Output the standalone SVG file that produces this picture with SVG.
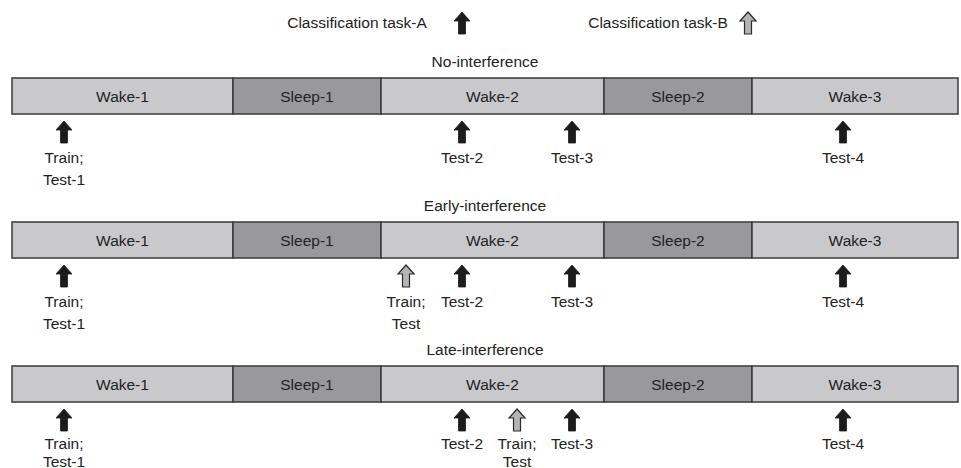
<svg xmlns="http://www.w3.org/2000/svg" xmlns:xlink="http://www.w3.org/1999/xlink" width="961" height="468" viewBox="0 0 961 468">
<style>
text{font-family:"Liberation Sans",Arial,sans-serif;font-size:15.5px;fill:#222;text-anchor:middle}
.wake{fill:#c9c9cb;stroke:#3a3a3a;stroke-width:1.5}
.sleep{fill:#99999c;stroke:#3a3a3a;stroke-width:1.5}
.a{fill:#1c1c1c;stroke:#1c1c1c;stroke-width:0.8}
.b{fill:#b4b4b6;stroke:#2a2a2a;stroke-width:1.2}
</style>
<defs>
<path id="arr" d="M0,0 L8,9 L3.5,9 L3.5,22 L-3.5,22 L-3.5,9 L-8,9 Z"/>
</defs>
<rect width="961" height="468" fill="#fff"/>
<g id="legend">
<text x="357" y="28">Classification task-A</text>
<use href="#arr" class="a" x="462" y="12"/>
<text x="658" y="28">Classification task-B</text>
<use href="#arr" class="b" x="748" y="12"/>
</g>
<g id="no-interference">
<text x="485" y="67">No-interference</text>
<g id="r1-wake1"><rect class="wake" x="12" y="78" width="221" height="36"/><text x="122.5" y="101.5">Wake-1</text></g>
<g id="r1-sleep1"><rect class="sleep" x="233" y="78" width="148" height="36"/><text x="307" y="101.5">Sleep-1</text></g>
<g id="r1-wake2"><rect class="wake" x="381" y="78" width="223" height="36"/><text x="492.5" y="101.5">Wake-2</text></g>
<g id="r1-sleep2"><rect class="sleep" x="604" y="78" width="148" height="36"/><text x="678" y="101.5">Sleep-2</text></g>
<g id="r1-wake3"><rect class="wake" x="752" y="78" width="206" height="36"/><text x="855" y="101.5">Wake-3</text></g>
<g id="r1-train"><use href="#arr" class="a" x="64" y="121"/><text x="64" y="162.5">Train;</text><text x="64" y="184.5">Test-1</text></g>
<g id="r1-test2"><use href="#arr" class="a" x="462" y="121"/><text x="462" y="162.5">Test-2</text></g>
<g id="r1-test3"><use href="#arr" class="a" x="572" y="121"/><text x="572" y="162.5">Test-3</text></g>
<g id="r1-test4"><use href="#arr" class="a" x="843" y="121"/><text x="843" y="162.5">Test-4</text></g>
</g>
<g id="early-interference">
<text x="485" y="211">Early-interference</text>
<g id="r2-wake1"><rect class="wake" x="12" y="222" width="221" height="36"/><text x="122.5" y="245.5">Wake-1</text></g>
<g id="r2-sleep1"><rect class="sleep" x="233" y="222" width="148" height="36"/><text x="307" y="245.5">Sleep-1</text></g>
<g id="r2-wake2"><rect class="wake" x="381" y="222" width="223" height="36"/><text x="492.5" y="245.5">Wake-2</text></g>
<g id="r2-sleep2"><rect class="sleep" x="604" y="222" width="148" height="36"/><text x="678" y="245.5">Sleep-2</text></g>
<g id="r2-wake3"><rect class="wake" x="752" y="222" width="206" height="36"/><text x="855" y="245.5">Wake-3</text></g>
<g id="r2-train"><use href="#arr" class="a" x="64" y="265"/><text x="64" y="306.5">Train;</text><text x="64" y="328.5">Test-1</text></g>
<g id="r2-trainB"><use href="#arr" class="b" x="406" y="265"/><text x="406" y="306.5">Train;</text><text x="406" y="328.5">Test</text></g>
<g id="r2-test2"><use href="#arr" class="a" x="462" y="265"/><text x="462" y="306.5">Test-2</text></g>
<g id="r2-test3"><use href="#arr" class="a" x="572" y="265"/><text x="572" y="306.5">Test-3</text></g>
<g id="r2-test4"><use href="#arr" class="a" x="843" y="265"/><text x="843" y="306.5">Test-4</text></g>
</g>
<g id="late-interference">
<text x="485" y="355">Late-interference</text>
<g id="r3-wake1"><rect class="wake" x="12" y="366" width="221" height="36"/><text x="122.5" y="389.5">Wake-1</text></g>
<g id="r3-sleep1"><rect class="sleep" x="233" y="366" width="148" height="36"/><text x="307" y="389.5">Sleep-1</text></g>
<g id="r3-wake2"><rect class="wake" x="381" y="366" width="223" height="36"/><text x="492.5" y="389.5">Wake-2</text></g>
<g id="r3-sleep2"><rect class="sleep" x="604" y="366" width="148" height="36"/><text x="678" y="389.5">Sleep-2</text></g>
<g id="r3-wake3"><rect class="wake" x="752" y="366" width="206" height="36"/><text x="855" y="389.5">Wake-3</text></g>
<g id="r3-train"><use href="#arr" class="a" x="64" y="409"/><text x="64" y="449">Train;</text><text x="64" y="466.5">Test-1</text></g>
<g id="r3-test2"><use href="#arr" class="a" x="462" y="409"/><text x="462" y="449">Test-2</text></g>
<g id="r3-trainB"><use href="#arr" class="b" x="517" y="409"/><text x="517" y="449">Train;</text><text x="517" y="466.5">Test</text></g>
<g id="r3-test3"><use href="#arr" class="a" x="572" y="409"/><text x="572" y="449">Test-3</text></g>
<g id="r3-test4"><use href="#arr" class="a" x="843" y="409"/><text x="843" y="449">Test-4</text></g>
</g>
</svg>
